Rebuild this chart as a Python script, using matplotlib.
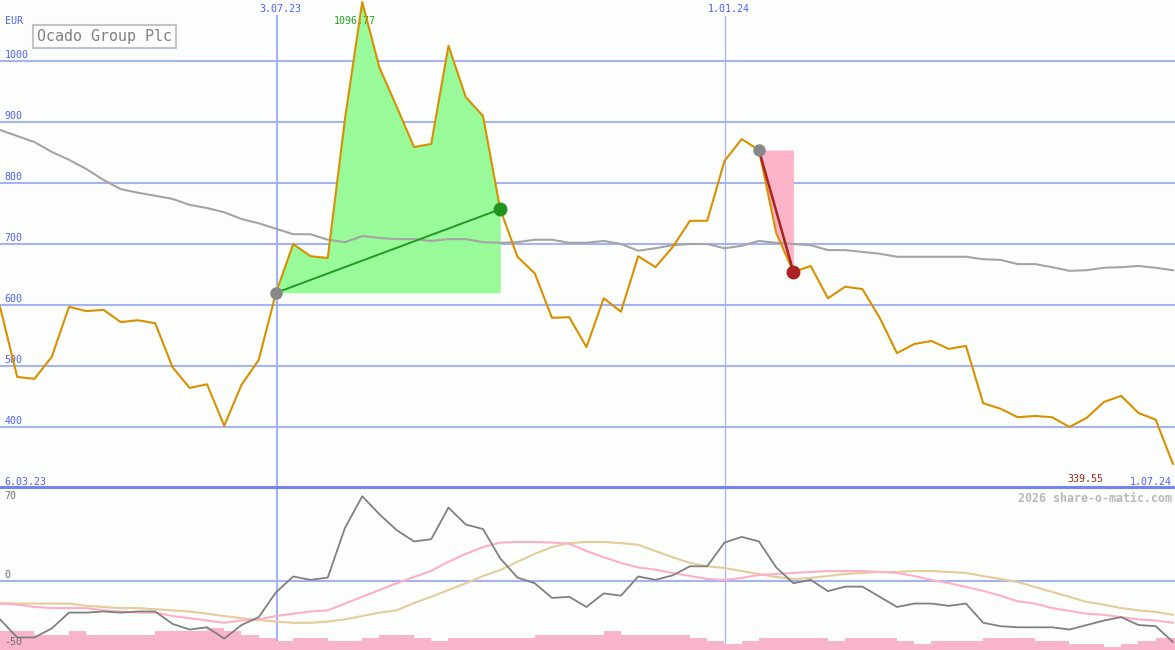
import numpy as np
import matplotlib.pyplot as plt
from matplotlib.lines import Line2D

# weekly closes (EUR), first week 6.03.23
price = [597, 482, 479, 515, 597, 590, 592, 572, 575, 570,
         498, 464, 470, 402, 469, 510, 620, 700, 680, 677,
         905, 1096.77, 989, 925, 859, 864, 1025, 941, 910, 757,
         679, 652, 579, 580, 531, 611, 589, 680, 662, 695,
         738, 738, 836, 872, 854, 718, 654, 664, 611, 630,
         626, 579, 521, 536, 541, 528, 533, 439, 430, 416,
         418, 416, 400, 415, 441, 451, 423, 412, 339.55]

# long moving average
ma = [887, 877, 867, 851, 838, 823, 805, 790, 784, 779,
      774, 764, 759, 752, 741, 734, 725, 716, 716, 707,
      703, 713, 710, 708, 708, 705, 708, 708, 703, 702,
      703, 707, 707, 702, 702, 705, 700, 689, 693, 698,
      700, 700, 693, 697, 705, 702, 700, 698, 690, 690,
      687, 684, 679, 679, 679, 679, 679, 675, 674, 667,
      667, 662, 656, 657, 661, 662, 664, 661, 657]

# lower panel indicators
momentum = [-34, -50, -50, -42, -28, -28, -27, -28, -27, -27,
            -38, -43, -41, -51, -39, -32, -10, 4, 1, 3,
            47, 75, 59, 45, 35, 37, 65, 50, 46, 20,
            3, -2, -15, -14, -23, -11, -13, 4, 1, 5,
            13, 13, 34, 39, 35, 12, -2, 1, -9, -5,
            -5, -14, -23, -20, -20, -22, -20, -37, -40, -41,
            -41, -41, -43, -39, -35, -32, -39, -40, -54]

signal_fast = [-20, -21, -23, -24, -24, -24, -26, -27, -28, -28,
               -31, -33, -35, -37, -35, -34, -31, -29, -27, -26,
               -20, -14, -8, -2, 3.5, 9, 17, 24, 30, 34,
               34.5, 34.5, 34, 33, 26.5, 21, 16, 12, 10, 7,
               4.4, 1.8, 0.9, 2.7, 5.3, 6.2, 7.1, 8, 8.8, 8.8,
               8.8, 8, 7.1, 4.4, 0.9, -1.8, -5.3, -8.8, -13, -18,
               -20, -24, -26.5, -29, -30, -32, -34, -35, -37]

signal_slow = [-19.5, -20, -20, -20, -20, -22, -23, -24, -24, -25,
               -26, -27, -29, -31, -33, -34.5, -36, -37, -37, -36,
               -34, -31, -28, -26, -19.5, -14, -8, -2, 4.4, 9.7,
               17, 24, 30, 33.6, 34.5, 34.5, 33.6, 32, 26.5, 21,
               16, 13, 11.5, 8.8, 6.2, 3.5, 1.8, 2.7, 4.4, 6.2,
               7.1, 8, 8, 8.8, 8.8, 8, 7.1, 4.4, 1.8, -0.9,
               -5.3, -9.7, -14, -18.6, -21, -24, -26, -27.4, -30]

volume = [17, 17, 13, 13, 17, 13, 13, 13, 13, 17,
          17, 17, 19.5, 17, 13, 10.5, 8, 10.5, 10.5, 8,
          8, 10.5, 13, 13, 10.5, 8, 10.5, 10.5, 10.5, 10.5,
          10.5, 13, 13, 13, 13, 17, 13, 13, 13, 13,
          10.5, 8, 5.3, 8, 10.5, 10.5, 10.5, 10.5, 8, 10.5,
          10.5, 10.5, 8, 5.3, 8, 8, 8, 10.5, 10.5, 10.5,
          8, 8, 5.3, 5.3, 2.7, 5.3, 8, 10.5, 10.5]

price_ticks = [400, 500, 600, 700, 800, 900, 1000]
ind_ticks = [70, 0]
ind_bottom_label = '-50'
date_marks = [16.05, 42.03]
date_labels = ['3.07.23', '1.01.24']
first_date, last_date = '6.03.23', '1.07.24'

# trades: (entry index, exit index)
win_trade = (16, 29)
loss_trade = (44, 46)

bg = '#fcfefc'
grid = '#a4b4f2'
blue = '#5060f0'
mono = 'DejaVu Sans Mono'

x = np.arange(len(price))
price = np.array(price)

fig = plt.figure(figsize=(11.75, 6.5), dpi=100)
fig.patch.set_facecolor(bg)
ax = fig.add_axes([0, 163 / 650, 1, 487 / 650])
ax2 = fig.add_axes([0, 0, 1, 163 / 650])
for a in (ax, ax2):
    a.set_facecolor(bg)
    a.set_xlim(0, 68.12)
    a.set_xticks([])
    a.set_yticks([])
    for s in a.spines.values():
        s.set_visible(False)
ax.set_ylim(301.6, 1100)
ax2.set_ylim(-61.1, 83.2)

# grid
for v in price_ticks:
    ax.axhline(v, color=grid, lw=1.5, zorder=1)
    ax.annotate(str(v), xy=(0.004, v), xycoords=('axes fraction', 'data'),
                xytext=(0, 1), textcoords='offset pixels', va='bottom',
                color=blue, fontsize=7.2, family=mono)
ax2.axhline(0, color=grid, lw=1.5, zorder=1)
for xm, lab, lw in zip(date_marks, date_labels, [1.5, 0.9]):
    ax.axvline(xm, ymax=(487 - 16) / 487, color=grid, lw=lw, zorder=1)
    ax2.axvline(xm, color=grid, lw=lw, zorder=1)
    ax.text(xm + 0.2, 1085, lab, ha='center', va='center', color=blue,
            fontsize=7.2, family=mono)

# winning trade
e, q = win_trade
ax.fill_between(x[e:q + 1], price[e:q + 1], price[e], color='#98fa98', lw=0, zorder=2)
# losing trade
e2, q2 = loss_trade
ax.fill_between(x[e2:q2 + 1], price[e2:q2 + 1], price[e2], color='#fcb4c8', lw=0, zorder=2)

ax.plot(x, ma, color='#a4a4a4', lw=1.5, zorder=3)
ax.plot(x, price, color='#d89000', lw=1.5, zorder=4)

ax.plot([e, q], [price[e], price[q]], color='#229a22', lw=1.4, zorder=5)
ax.plot([e2, q2], [price[e2], price[q2]], color='#a82222', lw=1.8, zorder=5)
ax.plot([e, e2], [price[e], price[e2]], 'o', color='#888888', ms=8, zorder=6, ls='none')
ax.plot([q], [price[q]], 'o', color='#1e961e', ms=9, zorder=6)
ax.plot([q2], [price[q2]], 'o', color='#aa2222', ms=9, zorder=6)

peak = int(np.argmax(price))
ax.annotate(f'{price[peak]:.2f}', xy=(peak, price[peak]), xytext=(-7, -19),
            textcoords='offset pixels', ha='center', va='center',
            color='#22a022', fontsize=7.2, family=mono)
ax.annotate(f'{price[-1]:.2f}', xy=(x[-1], 301.6), xytext=(-70, 8),
            textcoords='offset pixels', ha='right', va='center',
            color='#a02020', fontsize=7.2, family=mono)

ax.text(0.004, 1065, 'EUR', transform=ax.get_yaxis_transform(), ha='left', va='center',
        color=blue, fontsize=7.2, family=mono)
ax.text(0.004, 301.6, first_date, transform=ax.get_yaxis_transform(), ha='left', va='bottom',
        color=blue, fontsize=7.2, family=mono)
ax.text(0.9975, 301.6, last_date, transform=ax.get_yaxis_transform(), ha='right', va='bottom',
        color=blue, fontsize=7.2, family=mono)
ax.text(0.0315, 0.925, 'Ocado Group Plc', transform=ax.transAxes, ha='left', va='center',
        color='#808080', fontsize=10.8, family=mono,
        bbox=dict(boxstyle='square,pad=0.25', fc=bg, ec='#c4c4c4', lw=1.5))

# lower panel
ax2.bar(x, volume, width=1, align='edge', bottom=-61.1, color='#f8b4c8', lw=0, zorder=2)
ax2.plot(x, signal_slow, color='#e4cc9c', lw=1.5, zorder=3)
ax2.plot(x, signal_fast, color='#fcb0c8', lw=1.5, zorder=3)
ax2.plot(x, momentum, color='#808080', lw=1.3, zorder=4)
for v in ind_ticks:
    ax2.annotate(str(v), xy=(0.004, v), xycoords=('axes fraction', 'data'),
                 xytext=(0, 1), textcoords='offset pixels', va='bottom',
                 color='#707070', fontsize=7.2, family=mono)
ax2.text(0.004, 0.05, ind_bottom_label, transform=ax2.transAxes, ha='left', va='center',
         color='#707070', fontsize=7.2, family=mono, zorder=6)
ax2.text(0.9975, 0.93, '2026 share-o-matic.com', transform=ax2.transAxes, ha='right',
         va='center', color='#b8b8b8', fontsize=8.4, family=mono, fontweight='bold')

fig.add_artist(Line2D([0, 1], [163 / 650, 163 / 650], color='#7484f0', lw=2.2))

fig.savefig('out.png', dpi=100, facecolor=bg)
